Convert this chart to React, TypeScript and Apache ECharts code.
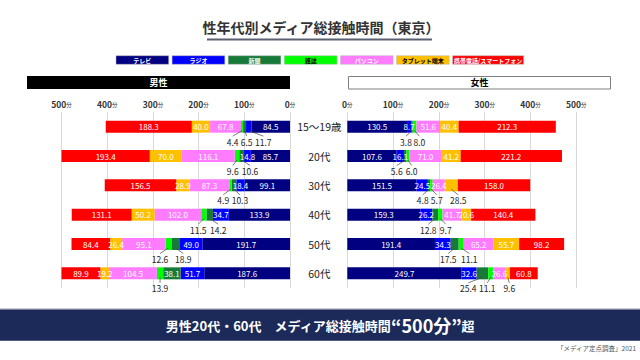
import React, { useEffect, useRef } from "react";
import * as echarts from "echarts";

const categories = ["15〜19歳", "20代", "30代", "40代", "50代", "60代"];
const media = ["テレビ", "ラジオ", "新聞", "雑誌", "パソコン", "タブレット端末", "携帯電話/スマートフォン"];
const colors = ["#000080", "#0000ff", "#187a38", "#00ff00", "#ff7bff", "#ffc000", "#ff0000"];
const legendTextColors = ["#fff", "#fff", "#fff", "#000", "#fff", "#000", "#fff"];

const maleTV = [84.5, 85.7, 99.1, 133.9, 191.7, 187.6];
const maleRadio = [11.7, 14.8, 18.4, 34.7, 49.0, 51.7];
const maleNews = [6.5, 10.6, 10.3, 14.2, 18.9, 38.1];
const maleMag = [4.4, 9.6, 4.9, 11.5, 12.6, 13.9];
const malePC = [67.8, 116.1, 87.3, 102.0, 95.1, 104.5];
const maleTab = [40.0, 70.0, 28.9, 50.2, 26.4, 19.2];
const maleMobile = [188.3, 193.4, 156.5, 131.1, 84.4, 89.9];

const femaleTV = [130.5, 107.6, 151.5, 159.3, 191.4, 249.7];
const femaleRadio = [8.7, 16.1, 24.5, 26.2, 34.3, 32.6];
const femaleNews = [3.8, 5.6, 4.8, 12.8, 17.5, 25.4];
const femaleMag = [8.0, 6.0, 5.7, 9.7, 11.1, 11.1];
const femalePC = [51.6, 71.0, 26.4, 41.7, 65.2, 26.6];
const femaleTab = [40.4, 41.2, 28.5, 20.6, 55.7, 9.6];
const femaleMobile = [212.3, 221.2, 158.0, 140.4, 98.2, 60.8];

const axisTicks = [0, 100, 200, 300, 400, 500];

// label callouts placed under the bars: [row, medium index, horizontal label shift in px]
const maleCallouts = [
  [0, 3, -9.4], [0, 2, 2.1], [0, 1, 14.6],
  [1, 3, -4.3], [1, 2, 8.4],
  [2, 3, -7.2], [2, 2, 6],
  [3, 3, -5.5], [3, 2, 8.6],
  [4, 3, -8.5], [4, 2, 7.6],
  [5, 3, 0],
];
const femaleCallouts = [
  [0, 2, -5.9], [0, 3, 4.7],
  [1, 2, -8.5], [1, 3, 3.8],
  [2, 2, -6.3], [2, 3, 5.3], [2, 5, 7],
  [3, 2, -6.9], [3, 3, 5.4],
  [4, 2, -6.4], [4, 3, 8.1],
  [5, 2, -14.1], [5, 3, -3.5], [5, 5, 1.6],
];

const FONT = "'Noto Sans CJK JP', 'Noto Sans', sans-serif";

const maleData = [maleTV, maleRadio, maleNews, maleMag, malePC, maleTab, maleMobile];
const femaleData = [femaleTV, femaleRadio, femaleNews, femaleMag, femalePC, femaleTab, femaleMobile];

function buildBars(data: number[][], callouts: number[][], idx: number, stack: string) {
  return data.map((vals, m) => ({
    type: "bar",
    name: media[m],
    stack,
    xAxisIndex: idx,
    yAxisIndex: idx,
    barWidth: 12,
    itemStyle: { color: colors[m] },
    label: {
      show: true,
      position: "inside",
      color: "#fff",
      fontSize: 8,
      fontFamily: FONT,
      formatter: (p: any) => Number(p.value).toFixed(1),
    },
    data: vals.map((v, r) => {
      const outside = callouts.some((c) => c[0] === r && c[1] === m);
      return outside ? { value: v, label: { show: false } } : v;
    }),
  }));
}

function buildCallouts(data: number[][], callouts: number[][], idx: number) {
  const pts = callouts.map(([r, m, dx]) => {
    let start = 0;
    for (let k = 0; k < m; k++) start += data[k][r];
    const v = data[m][r];
    return [start + v / 2, r, dx, v];
  });
  return {
    type: "custom",
    xAxisIndex: idx,
    yAxisIndex: idx,
    clip: false,
    z: 10,
    silent: true,
    encode: { x: 0, y: 1 },
    data: pts,
    renderItem: (params: any, api: any) => {
      const c = api.coord([api.value(0), api.value(1)]);
      const x = c[0];
      const y = c[1];
      const lx = x + api.value(2);
      return {
        type: "group",
        children: [
          {
            type: "line",
            shape: { x1: x, y1: y + 4, x2: lx, y2: y + 9.5 },
            style: { stroke: "#444", lineWidth: 0.7 },
          },
          {
            type: "text",
            x: lx,
            y: y + 15,
            style: {
              text: Number(api.value(3)).toFixed(1),
              textAlign: "center",
              textVerticalAlign: "middle",
              fontSize: 8.5,
              fontFamily: FONT,
              fill: "#222",
            },
          },
        ],
      };
    },
  };
}

const axisLabelCfg = {
  margin: 4,
  formatter: (v: number) => `{n|${v}}{u|分}`,
  rich: {
    n: { fontSize: 8.5, fontWeight: "bold", color: "#333", fontFamily: FONT },
    u: { fontSize: 5.5, color: "#333", fontFamily: FONT, padding: [3, 0, 0, 0] },
  },
};

export default function App() {
  const ref = useRef<HTMLDivElement>(null);
  useEffect(() => {
    if (!ref.current) return;
    const chart = echarts.init(ref.current, undefined, { renderer: "svg" });
    const legendGraphics: any[] = [];
    media.forEach((name, i) => {
      const x = 116 + i * 56.1;
      const w = i === 6 ? 71 : 52.7;
      legendGraphics.push({
        type: "rect",
        shape: { x, y: 55.7, width: w, height: 8.6 },
        style: { fill: colors[i], stroke: "#bbb", lineWidth: 0.5 },
      });
      legendGraphics.push({
        type: "text",
        x: x + w / 2,
        y: 60,
        style: {
          text: name,
          textAlign: "center",
          textVerticalAlign: "middle",
          fontSize: 6,
          fontWeight: "bold",
          fontFamily: FONT,
          fill: legendTextColors[i],
        },
      });
    });

    const option: any = {
      animation: false,
      backgroundColor: "#fff",
      textStyle: { fontFamily: FONT },
      graphic: [
        {
          type: "text",
          x: 321,
          y: 27,
          style: {
            text: "性年代別メディア総接触時間（東京）",
            textAlign: "center",
            textVerticalAlign: "middle",
            fontSize: 14,
            fontWeight: "bold",
            fontFamily: FONT,
            fill: "#333",
          },
        },
        {
          type: "line",
          shape: { x1: 207, y1: 39.5, x2: 432, y2: 39.5 },
          style: { stroke: "#5a6070", lineWidth: 2 },
        },
        ...legendGraphics,
        {
          type: "rect",
          shape: { x: 27, y: 76, width: 263, height: 13 },
          style: { fill: "#000" },
        },
        {
          type: "text",
          x: 158.5,
          y: 82.5,
          style: {
            text: "男性",
            textAlign: "center",
            textVerticalAlign: "middle",
            fontSize: 9,
            fontWeight: "bold",
            fontFamily: FONT,
            fill: "#fff",
          },
        },
        {
          type: "rect",
          shape: { x: 348.5, y: 76.5, width: 262, height: 12.5 },
          style: { fill: "#fff", stroke: "#7f7f7f", lineWidth: 1 },
        },
        {
          type: "text",
          x: 479.5,
          y: 82.5,
          style: {
            text: "女性",
            textAlign: "center",
            textVerticalAlign: "middle",
            fontSize: 9,
            fontWeight: "bold",
            fontFamily: FONT,
            fill: "#000",
          },
        },
        {
          type: "line",
          shape: { x1: 0, y1: 309, x2: 640, y2: 309 },
          style: { stroke: "#a0a0a8", lineWidth: 1 },
        },
        {
          type: "rect",
          shape: { x: 0, y: 309.5, width: 640, height: 31.2 },
          style: { fill: "#1b2a58" },
        },
        {
          type: "text",
          x: 320,
          y: 325,
          style: {
            text: "{a|男性20代・60代　メディア総接触時間}{b|“500分”}{a|超}",
            textAlign: "center",
            textVerticalAlign: "middle",
            rich: {
              a: { fontSize: 13, fontWeight: "bold", fill: "#fff", color: "#fff", fontFamily: FONT },
              b: { fontSize: 18, fontWeight: "bold", fill: "#fff", color: "#fff", fontFamily: FONT },
            },
          },
        },
        {
          type: "text",
          x: 636,
          y: 348,
          style: {
            text: "「メディア定点調査」2021",
            textAlign: "right",
            textVerticalAlign: "middle",
            fontSize: 6.5,
            fontFamily: FONT,
            fill: "#555",
          },
        },
      ],
      grid: [
        { left: 61.5, right: 350, top: 112, height: 176 },
        { left: 347.3, right: 63.7, top: 112, height: 176 },
      ],
      xAxis: [
        {
          type: "value",
          gridIndex: 0,
          position: "top",
          inverse: true,
          min: axisTicks[0],
          max: axisTicks[axisTicks.length - 1],
          interval: 100,
          axisLine: { show: false },
          axisTick: { show: false },
          splitLine: { lineStyle: { color: "#d9d9d9", width: 1 } },
          axisLabel: axisLabelCfg,
        },
        {
          type: "value",
          gridIndex: 1,
          position: "top",
          min: axisTicks[0],
          max: axisTicks[axisTicks.length - 1],
          interval: 100,
          axisLine: { show: false },
          axisTick: { show: false },
          splitLine: { lineStyle: { color: "#d9d9d9", width: 1 } },
          axisLabel: axisLabelCfg,
        },
      ],
      yAxis: [
        {
          type: "category",
          gridIndex: 0,
          inverse: true,
          data: categories,
          show: false,
        },
        {
          type: "category",
          gridIndex: 1,
          inverse: true,
          data: categories,
          axisLine: { show: false },
          axisTick: { show: false },
          axisLabel: {
            align: "center",
            margin: 28,
            fontSize: 10.5,
            color: "#222",
            fontFamily: FONT,
          },
        },
      ],
      series: [
        ...buildBars(maleData, maleCallouts, 0, "male"),
        ...buildBars(femaleData, femaleCallouts, 1, "female"),
        buildCallouts(maleData, maleCallouts, 0),
        buildCallouts(femaleData, femaleCallouts, 1),
      ],
    };
    chart.setOption(option);
    return () => chart.dispose();
  }, []);
  return (
    <div
      ref={ref}
      style={{ position: "fixed", left: 0, top: 0, width: 640, height: 360 }}
    />
  );
}
